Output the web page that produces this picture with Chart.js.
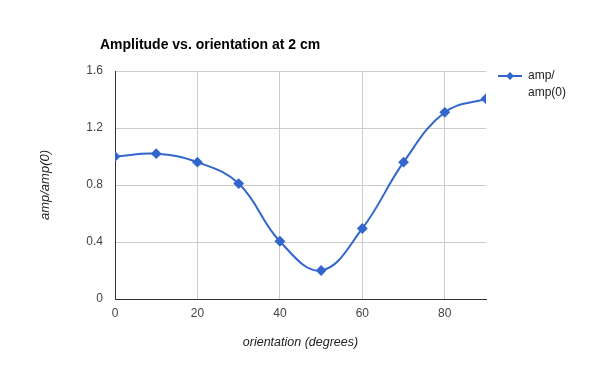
<!DOCTYPE html>
<html>
<head>
<meta charset="utf-8">
<script src="https://cdn.jsdelivr.net/npm/chart.js@4"></script>
<style>
  html, body { margin: 0; padding: 0; background: #fff; }
  #wrap { width: 600px; height: 371px; position: relative; }
</style>
</head>
<body>
<div id="wrap"><canvas id="ampChart"></canvas></div>
<script>
const chartTitle = 'Amplitude vs. orientation at 2 cm';
const xAxisTitle = 'orientation (degrees)';
const yAxisTitle = 'amp/amp(0)';
const legendLines = ['amp/', 'amp(0)'];

const orientations = [0, 10, 20, 30, 40, 50, 60, 70, 80, 90];
const ampValues = [1.0, 1.02, 0.96, 0.81, 0.405, 0.2, 0.495, 0.96, 1.31, 1.405];

const seriesColor = '#3366cc';
const fontFamily = '"Liberation Sans", Arial, sans-serif';

// titulo y leyenda dibujados a mano (la leyenda tiene dos lineas)
const extrasPlugin = {
    id: 'extras',
    afterDraw(chart) {
        const ctx = chart.ctx;
        ctx.save();
        ctx.fillStyle = '#000';
        ctx.font = 'bold 14px ' + fontFamily;
        ctx.textBaseline = 'middle';
        ctx.textAlign = 'left';
        ctx.fillText(chartTitle, 100, 45);

        // leyenda
        ctx.strokeStyle = seriesColor;
        ctx.lineWidth = 2;
        ctx.beginPath();
        ctx.moveTo(498, 76);
        ctx.lineTo(522, 76);
        ctx.stroke();
        ctx.fillStyle = seriesColor;
        ctx.beginPath();
        ctx.moveTo(510, 72);
        ctx.lineTo(514, 76);
        ctx.lineTo(510, 80);
        ctx.lineTo(506, 76);
        ctx.closePath();
        ctx.fill();

        ctx.fillStyle = '#222';
        ctx.font = '12px ' + fontFamily;
        legendLines.forEach((line, i) => {
            ctx.fillText(line, 528, 76 + i * 17);
        });
        ctx.restore();
    }
};

new Chart(document.getElementById('ampChart'), {
    type: 'line',
    data: {
        datasets: [{
            label: legendLines.join(''),
            data: orientations.map((x, i) => ({ x: x, y: ampValues[i] })),
            borderColor: seriesColor,
            backgroundColor: seriesColor,
            borderWidth: 2,
            tension: 0.4,
            pointStyle: 'rectRot',
            pointRadius: 4,
            pointHoverRadius: 5
        }]
    },
    options: {
        responsive: true,
        maintainAspectRatio: false,
        animation: false,
        layout: {
            padding: { top: 71, right: 114, bottom: 0, left: 0 }
        },
        scales: {
            x: {
                type: 'linear',
                min: 0,
                max: 90,
                grid: { color: '#cccccc', drawTicks: false },
                border: { color: '#333333', width: 1 },
                ticks: {
                    stepSize: 20,
                    includeBounds: false,
                    padding: 7,
                    color: '#444',
                    font: { family: fontFamily, size: 12 }
                },
                title: {
                    display: true,
                    text: xAxisTitle,
                    color: '#222',
                    padding: { top: 4, bottom: 21 },
                    font: { family: fontFamily, size: 12.5, style: 'italic' }
                },
                afterFit(scale) { scale.height = 72; }
            },
            y: {
                min: 0,
                max: 1.6,
                grid: { color: '#cccccc', drawTicks: false },
                border: { color: '#333333', width: 1 },
                ticks: {
                    stepSize: 0.4,
                    padding: 12,
                    color: '#444',
                    font: { family: fontFamily, size: 12 },
                    callback: v => (v === 0 ? '0' : v.toFixed(1))
                },
                title: {
                    display: true,
                    text: yAxisTitle,
                    color: '#222',
                    padding: { top: 38, bottom: 0 },
                    font: { family: fontFamily, size: 13, style: 'italic' }
                },
                afterFit(scale) { scale.width = 115; }
            }
        },
        plugins: {
            legend: { display: false },
            tooltip: { enabled: true }
        }
    },
    plugins: [extrasPlugin]
});
</script>
</body>
</html>
